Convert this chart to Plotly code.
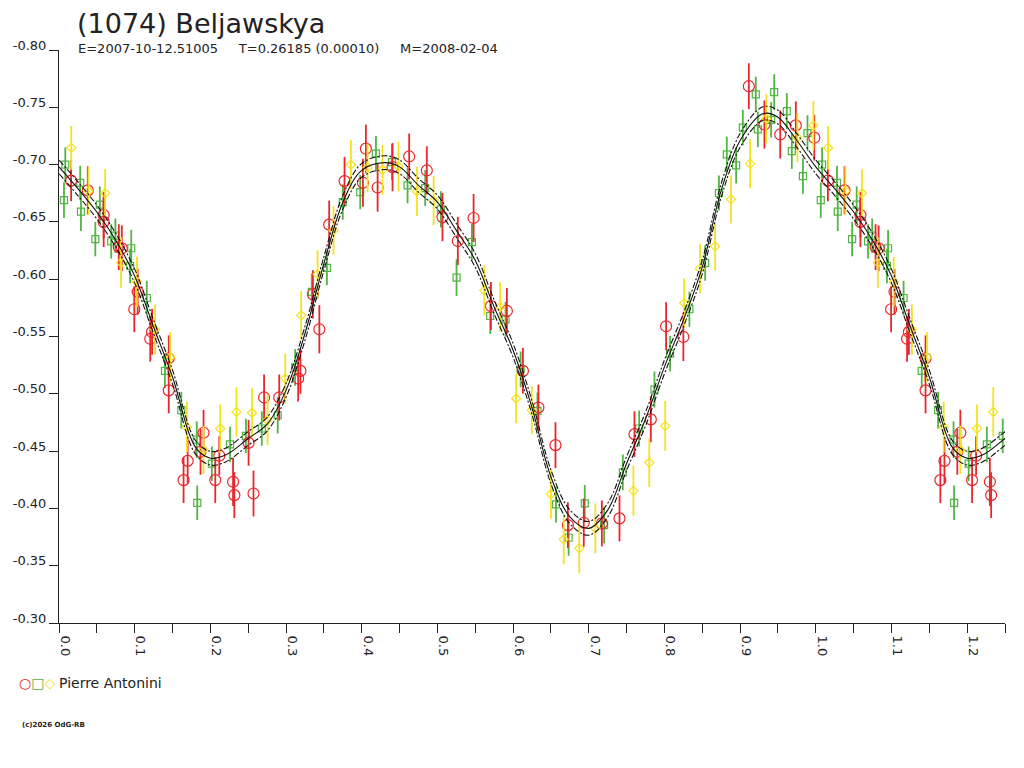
import plotly.graph_objects as go

# (1074) Beljawskya - composite lightcurve, phase vs reduced magnitude
# observer Pierre Antonini, three sessions (red / green / yellow)

red_phase = [0.016, 0.038, 0.059, 0.059, 0.079, 0.083, 0.104, 0.0995, 0.123, 0.1206,
             0.145, 0.145, 0.191, 0.187, 0.170, 0.1646, 0.2065, 0.2118, 0.230, 0.2317,
             0.2505, 0.257, 0.271, 0.291, 0.319, 0.316, 0.344, 0.3355, 0.357, 0.3773,
             0.4016, 0.4055, 0.421, 0.4407, 0.4627, 0.486, 0.5067, 0.527, 0.5478, 0.5707,
             0.5918, 0.613, 0.6335, 0.656, 0.6724, 0.6934, 0.7173, 0.7406, 0.7604, 0.782,
             0.8022, 0.825, 0.9115, 0.9321, 0.953, 0.9736, 0.998]
red_mag = [-0.686, -0.6775, -0.656, -0.650, -0.628, -0.627, -0.589, -0.5738, -0.554, -0.548,
           -0.531, -0.503, -0.466, -0.4494, -0.4415, -0.4247, -0.4247, -0.446, -0.4232, -0.4116,
           -0.4572, -0.413, -0.4968, -0.4968, -0.520, -0.5133, -0.5563, -0.5868, -0.6476, -0.6856,
           -0.6842, -0.7139, -0.680, -0.6978, -0.7071, -0.6949, -0.6542, -0.6333, -0.6534, -0.5766,
           -0.5723, -0.520, -0.488, -0.4552, -0.3854, -0.3875, -0.3869, -0.3913, -0.4648, -0.4777,
           -0.5589, -0.5496, -0.7684, -0.735, -0.7263, -0.7342, -0.7235]
red_err = [0.018, 0.021, 0.020, 0.022, 0.020, 0.020, 0.020, 0.020, 0.020, 0.020,
           0.020, 0.020, 0.020, 0.020, 0.020, 0.020, 0.020, 0.017, 0.021, 0.020,
           0.020, 0.020, 0.020, 0.020, 0.020, 0.020, 0.021, 0.021, 0.021, 0.021,
           0.021, 0.021, 0.021, 0.021, 0.020, 0.021, 0.021, 0.021, 0.021, 0.021,
           0.020, 0.020, 0.020, 0.020, 0.020, 0.021, 0.020, 0.020, 0.020, 0.020,
           0.021, 0.021, 0.020, 0.021, 0.021, 0.021, 0.020]

green_phase = [0.0083, 0.0066, 0.028, 0.029, 0.054, 0.048, 0.069, 0.0745, 0.0955, 0.094,
               0.116, 0.140, 0.1616, 0.182, 0.1827, 0.202, 0.226, 0.247, 0.268, 0.289,
               0.312, 0.334, 0.354, 0.375, 0.398, 0.4188, 0.440, 0.4606, 0.4839, 0.5046,
               0.5253, 0.5456, 0.5698, 0.590, 0.610, 0.6322, 0.6567, 0.6734, 0.6947, 0.7203,
               0.745, 0.7666, 0.7868, 0.8075, 0.833, 0.8538, 0.872, 0.8947, 0.8824, 0.9036,
               0.9207, 0.9234, 0.941, 0.945, 0.9617, 0.9683, 0.983, 0.989]
green_mag = [-0.700, -0.669, -0.684, -0.659, -0.665, -0.635, -0.633, -0.638, -0.627, -0.6115,
             -0.5836, -0.520, -0.4857, -0.460, -0.4049, -0.439, -0.4558, -0.4633, -0.4697, -0.4813,
             -0.523, -0.5889, -0.6098, -0.6673, -0.676, -0.7095, -0.7022, -0.6819, -0.6795, -0.661,
             -0.6014, -0.6324, -0.5679, -0.565, -0.5214, -0.4851, -0.4035, -0.3744, -0.4044, -0.3854,
             -0.4314, -0.4697, -0.5037, -0.5351, -0.5738, -0.6141, -0.6752, -0.6993, -0.7089, -0.7322,
             -0.7612, -0.7307, -0.7391, -0.7632, -0.7466, -0.7118, -0.690, -0.7275]
green_err = [0.015, 0.0155, 0.015, 0.017, 0.016, 0.015, 0.015, 0.015, 0.016, 0.015,
             0.015, 0.015, 0.016, 0.016, 0.015, 0.015, 0.0155, 0.015, 0.015, 0.016,
             0.016, 0.016, 0.015, 0.0155, 0.015, 0.0155, 0.0157, 0.0157, 0.0157, 0.0158,
             0.016, 0.016, 0.0157, 0.0153, 0.0155, 0.016, 0.0157, 0.0157, 0.016, 0.016,
             0.0155, 0.0157, 0.0157, 0.0155, 0.0153, 0.0155, 0.0153, 0.0157, 0.0155, 0.0155,
             0.0155, 0.0155, 0.0155, 0.0157, 0.0157, 0.0155, 0.0155, 0.0155]

yellow_phase = [0.0162, 0.039, 0.061, 0.082, 0.103, 0.127, 0.147, 0.169, 0.191, 0.213,
                0.2345, 0.255, 0.2756, 0.299, 0.320, 0.3417, 0.3628, 0.3857, 0.4077, 0.4275,
                0.4486, 0.473, 0.495, 0.562, 0.583, 0.604, 0.6248, 0.650, 0.6669, 0.6875,
                0.7087, 0.759, 0.780, 0.801, 0.826, 0.847, 0.867, 0.888, 0.9132, 0.9347,
                0.9757, 0.9968]
yellow_mag = [-0.7147, -0.677, -0.675, -0.6145, -0.5976, -0.556, -0.532, -0.471, -0.451, -0.4697,
              -0.4842, -0.4834, -0.477, -0.5133, -0.5685, -0.6043, -0.6426, -0.700, -0.6973, -0.6955,
              -0.6984, -0.6766, -0.6686, -0.5903, -0.5758, -0.4959, -0.4857, -0.4125, -0.373, -0.3651,
              -0.3826, -0.4153, -0.440, -0.472, -0.5792, -0.6092, -0.6287, -0.6697, -0.7008, -0.740,
              -0.7235, -0.7342]
yellow_err = [0.019, 0.021, 0.021, 0.022, 0.022, 0.022, 0.022, 0.022, 0.021, 0.021,
              0.0215, 0.0214, 0.0218, 0.0218, 0.021, 0.021, 0.0214, 0.0215, 0.021, 0.0218,
              0.0218, 0.0215, 0.0215, 0.022, 0.0215, 0.0215, 0.021, 0.0214, 0.0218, 0.0218,
              0.0218, 0.0218, 0.0214, 0.0218, 0.0214, 0.0215, 0.021, 0.021, 0.0214, 0.0215,
              0.0214, 0.0215]

# Fourier fit
fit_phase = [0.0, 0.025, 0.05, 0.075, 0.10, 0.125, 0.15, 0.18, 0.20, 0.22,
             0.25, 0.275, 0.30, 0.325, 0.35, 0.375, 0.40, 0.43, 0.45, 0.475,
             0.50, 0.525, 0.55, 0.575, 0.60, 0.625, 0.65, 0.675, 0.70, 0.725,
             0.75, 0.775, 0.80, 0.825, 0.85, 0.875, 0.90, 0.93, 0.95, 0.975, 1.0]
fit_mag = [-0.698, -0.679, -0.6586, -0.634, -0.6028, -0.5583, -0.5147, -0.4537, -0.4438, -0.4465,
           -0.461, -0.4735, -0.503, -0.5526, -0.6136, -0.667, -0.695, -0.7017, -0.698, -0.6819,
           -0.6673, -0.6426, -0.6165, -0.5758, -0.538, -0.488, -0.4276, -0.3927, -0.3826, -0.3985,
           -0.4392, -0.478, -0.5235, -0.5642, -0.6106, -0.6775, -0.7211, -0.7444, -0.7414, -0.721, -0.698]
fit_sigma = 0.006

x_ticks = [0.0, 0.1, 0.2, 0.3, 0.4, 0.5, 0.6, 0.7, 0.8, 0.9, 1.0, 1.1, 1.2]
y_ticks = [-0.80, -0.75, -0.70, -0.65, -0.60, -0.55, -0.50, -0.45, -0.40, -0.35, -0.30]

PH_MAX = 1.25
FONT = "DejaVu Sans, Verdana, sans-serif"
INK = "#222222"
RED, GREEN, YELLOW = "#e8262b", "#52b444", "#f4e21c"


def wrap(ph, *cols):
    # first quarter of the cycle is drawn again after phase 1.0
    idx = [i for i, p in enumerate(ph) if p + 1 <= PH_MAX]
    out = [list(ph) + [ph[i] + 1 for i in idx]]
    for c in cols:
        out.append(list(c) + [c[i] for i in idx])
    return out


fig = go.Figure()

for ph, mag, err, col, sym, size in [
    (green_phase, green_mag, green_err, GREEN, "square-open", 7),
    (red_phase, red_mag, red_err, RED, "circle-open", 11),
    (yellow_phase, yellow_mag, yellow_err, YELLOW, "diamond-open", 7),
]:
    x, y, e = wrap(ph, mag, err)
    fig.add_trace(go.Scatter(
        x=x, y=y, mode="markers",
        marker=dict(symbol=sym, size=size, color=col, line=dict(width=1.2, color=col)),
        error_y=dict(type="data", array=e, visible=True, color=col, thickness=1.8, width=0),
        showlegend=False, hoverinfo="x+y"))

# fit curve repeated past phase 1
fx = list(fit_phase) + [p + 1 for p in fit_phase[1:] if p + 1 <= PH_MAX + 0.03]
fy = list(fit_mag) + [fit_mag[i] for i, p in enumerate(fit_phase) if i > 0 and p + 1 <= PH_MAX + 0.03]

for off, dash in [(-fit_sigma, "6px,2px,2px,2px"), (fit_sigma, "6px,2px,2px,2px"), (0, "solid")]:
    fig.add_trace(go.Scatter(
        x=fx, y=[v + off for v in fy], mode="lines",
        line=dict(color="#111111", width=1.1, dash=dash, shape="spline", smoothing=1.0),
        showlegend=False, hoverinfo="skip"))

# page geometry: the figure sits 8px in from the page corner (body margin)
OX, OY = 8, 8
W, H = 1000, 744
L, T = 59 - OX, 50 - OY
R = W - (1005 - OX)
B = H - (623 - OY)
PW, PH = W - L - R, H - T - B


def px(x, y):
    # page pixel -> paper coords
    return (x - OX - L) / PW, 1 - (y - OY - T) / PH


anns = []
tx, ty = px(75, 23)
anns.append(dict(text="(1074) Beljawskya", x=tx, y=ty, xanchor="left", yanchor="middle",
                 font=dict(size=27, color=INK, family=FONT)))
sx, sy = px(76, 48)
sub = "E=2007-10-12.51005" + "\u00a0" * 5 + "T=0.26185 (0.00010)" + "\u00a0" * 5 + "M=2008-02-04"
anns.append(dict(text=sub, x=sx, y=sy, xanchor="left", yanchor="middle",
                 font=dict(size=13, color=INK, family=FONT)))
lx, ly = px(17, 683)
anns.append(dict(text=f'<span style="color:{RED}">○</span><span style="color:{GREEN}">□</span>'
                      f'<span style="color:{YELLOW}">◇</span>',
                 x=lx, y=ly, xanchor="left", yanchor="middle",
                 font=dict(size=14, family="DejaVu Sans")))
nx, ny = px(57, 683)
anns.append(dict(text="Pierre Antonini", x=nx, y=ny, xanchor="left", yanchor="middle",
                 font=dict(size=14, color=INK, family=FONT)))
cx, cy = px(20, 725)
anns.append(dict(text="<b>(c)2026 OdG-RB</b>", x=cx, y=cy, xanchor="left", yanchor="middle",
                 font=dict(size=7, color=INK, family=FONT)))
for a in anns:
    a.update(xref="paper", yref="paper", showarrow=False)

fig.update_layout(
    width=W, height=H,
    margin=dict(l=L, r=R, t=T, b=B, pad=0, autoexpand=False),
    paper_bgcolor="white", plot_bgcolor="white",
    font=dict(family=FONT, size=13, color=INK),
    annotations=anns,
    xaxis=dict(range=[0, PH_MAX], tickvals=x_ticks, ticktext=[f"{v:.1f}" for v in x_ticks],
               tickangle=90, ticks="outside", ticklen=9, tickcolor=INK, automargin=False,
               showline=True, linecolor=INK, linewidth=1, showgrid=False, zeroline=False,
               minor=dict(dtick=0.05, tick0=0, ticks="outside", ticklen=9, tickcolor=INK),
               tickfont=dict(size=13), ticklabelshift=6),
    yaxis=dict(range=[-0.30, -0.80], tickvals=y_ticks, ticktext=[f"{v:.2f}" for v in y_ticks],
               ticks="outside", ticklen=9, tickcolor=INK, automargin=False,
               showline=True, linecolor=INK, linewidth=1, showgrid=False, zeroline=False,
               tickfont=dict(size=13), ticklabelshift=5),
)

fig.write_html("out.html")
